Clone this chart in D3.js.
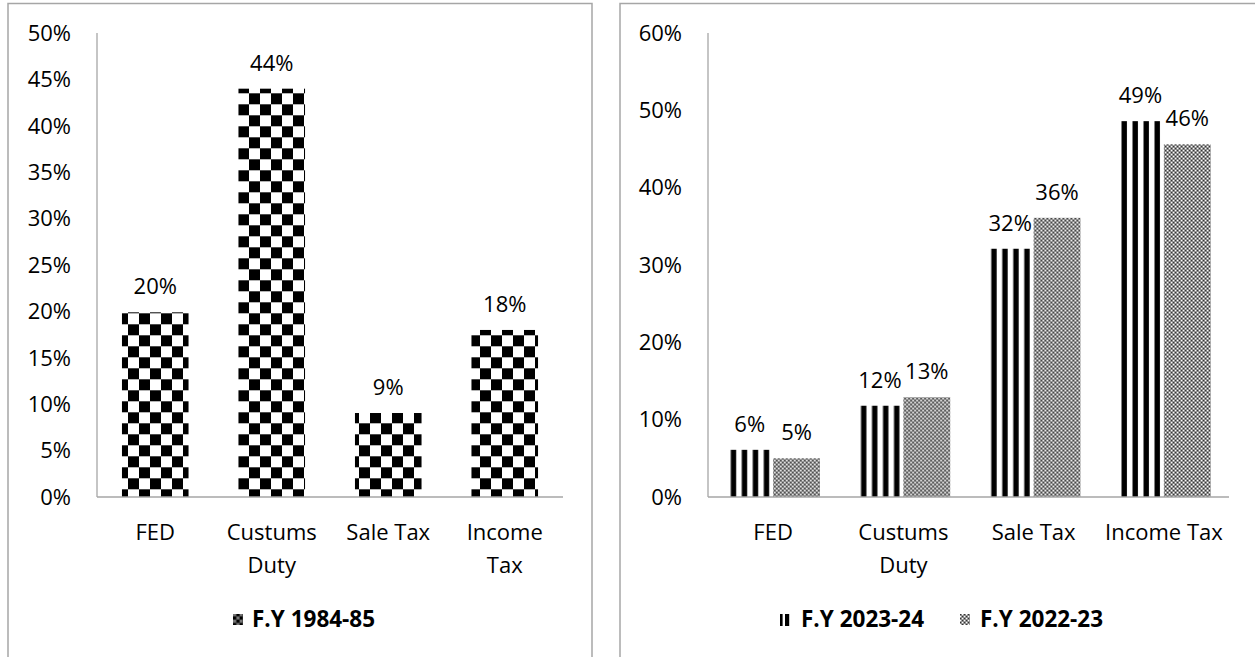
<!DOCTYPE html>
<html>
<head>
<meta charset="utf-8">
<script src="https://cdn.jsdelivr.net/npm/d3@7/dist/d3.min.js"></script>
<style>
  html, body { margin: 0; padding: 0; background: #fff; }
  svg { display: block; }
  text { font-family: "Open Sans", "Noto Sans", sans-serif; fill: #000; }
</style>
</head>
<body>
<svg id="chart" width="1255" height="657"></svg>
<script>
// Tax revenue shares by head
const categories = ["FED", "Custums Duty", "Sale Tax", "Income Tax"];
const yearOld = "F.Y 1984-85";
const valuesOld = [0.199, 0.44, 0.0905, 0.18];
const yearNew = "F.Y 2023-24";
const yearPrev = "F.Y 2022-23";
const valuesNew = [0.061, 0.118, 0.321, 0.486];
const valuesPrev = [0.05, 0.129, 0.361, 0.456];
const ticksLeft = [0, 0.05, 0.10, 0.15, 0.20, 0.25, 0.30, 0.35, 0.40, 0.45, 0.50];
const ticksRight = [0, 0.10, 0.20, 0.30, 0.40, 0.50, 0.60];

const svg = d3.select("#chart");
const pct = d3.format(".0%");
const defs = svg.append("defs");

// Checkerboard fill
const checker = defs.append("pattern")
  .attr("id", "checker").attr("patternUnits", "userSpaceOnUse")
  .attr("x", 7).attr("y", 5.3).attr("width", 22).attr("height", 22);
checker.append("rect").attr("width", 22).attr("height", 22).attr("fill", "#fff");
checker.append("rect").attr("x", 0).attr("y", 0).attr("width", 11).attr("height", 11).attr("fill", "#000");
checker.append("rect").attr("x", 11).attr("y", 11).attr("width", 11).attr("height", 11).attr("fill", "#000");

// Small checkerboard for the legend key
const checkerSmall = defs.append("pattern")
  .attr("id", "checkerSmall").attr("patternUnits", "userSpaceOnUse")
  .attr("x", 233).attr("y", 613).attr("width", 6.6).attr("height", 6.6);
checkerSmall.append("rect").attr("width", 6.6).attr("height", 6.6).attr("fill", "#777");
checkerSmall.append("rect").attr("x", 3.3).attr("y", 0).attr("width", 3.3).attr("height", 3.3).attr("fill", "#000");
checkerSmall.append("rect").attr("x", 0).attr("y", 3.3).attr("width", 3.3).attr("height", 3.3).attr("fill", "#000");

// Vertical stripes
const stripes = defs.append("pattern")
  .attr("id", "stripes").attr("patternUnits", "userSpaceOnUse")
  .attr("x", 4).attr("y", 0).attr("width", 11).attr("height", 11);
stripes.append("rect").attr("width", 11).attr("height", 11).attr("fill", "#fff");
stripes.append("rect").attr("x", 0.5).attr("width", 5.4).attr("height", 11).attr("fill", "#000");

// Fine dotted grey
const dots = defs.append("pattern")
  .attr("id", "dots").attr("patternUnits", "userSpaceOnUse")
  .attr("width", 4).attr("height", 4);
dots.append("rect").attr("width", 4).attr("height", 4).attr("fill", "#8a8a8a");
dots.append("rect").attr("x", 0).attr("y", 0).attr("width", 1.2).attr("height", 1.2).attr("fill", "#fff");
dots.append("rect").attr("x", 2).attr("y", 2).attr("width", 1.2).attr("height", 1.2).attr("fill", "#fff");
dots.append("rect").attr("x", 2).attr("y", 0).attr("width", 1).attr("height", 1).attr("fill", "#333");
dots.append("rect").attr("x", 0).attr("y", 2).attr("width", 1).attr("height", 1).attr("fill", "#333");

// Panel frames
svg.append("rect").attr("x", 8).attr("y", 3.5).attr("width", 584).attr("height", 700)
  .attr("fill", "none").attr("stroke", "#a6a6a6").attr("stroke-width", 1.5);
svg.append("rect").attr("x", 620).attr("y", 3.5).attr("width", 700).attr("height", 700)
  .attr("fill", "none").attr("stroke", "#a6a6a6").attr("stroke-width", 1.5);

const axisColor = "#a6a6a6";
const fontSize = 22;
const legendSize = 22.5;

function drawAxes(g, x0, x1, y, ticks) {
  g.append("line").attr("x1", x0).attr("x2", x0).attr("y1", y.range()[1]).attr("y2", y.range()[0])
    .attr("stroke", axisColor).attr("stroke-width", 1.3);
  g.append("line").attr("x1", x0).attr("x2", x1).attr("y1", y(0)).attr("y2", y(0))
    .attr("stroke", axisColor).attr("stroke-width", 1.3);
  g.selectAll(".ytick").data(ticks).join("text")
    .attr("class", "ytick")
    .attr("x", x0 - 26).attr("y", d => y(d)).attr("dy", "0.35em")
    .attr("text-anchor", "end").style("font-size", fontSize + "px")
    .text(pct);
}

// Category labels wrap onto a second line only when they are wider than their band
function drawCategoryLabels(g, x) {
  g.selectAll(".xlab").data(categories).join("text")
    .attr("class", "xlab")
    .attr("text-anchor", "middle").style("font-size", fontSize + "px")
    .attr("transform", d => `translate(${x(d) + x.bandwidth() / 2},540)`)
    .each(function (d) {
      const t = d3.select(this);
      t.text(d);
      if (this.getComputedTextLength() <= x.bandwidth()) return;
      t.text(null);
      const words = d.split(" ");
      t.selectAll("tspan").data(words).join("tspan")
        .attr("x", 0).attr("y", (w, i) => i * 33).text(w => w);
    });
}

// ---------- Left chart: F.Y 1984-85 ----------
const gL = svg.append("g");
const yL = d3.scaleLinear().domain([0, 0.5]).range([497, 33]);
const xL = d3.scaleBand().domain(categories).range([97, 563]).padding(0);
const barWL = xL.bandwidth() / 1.75;

gL.selectAll(".barL").data(categories).join("rect")
  .attr("class", "barL")
  .attr("x", d => xL(d) + (xL.bandwidth() - barWL) / 2)
  .attr("width", barWL)
  .attr("y", (d, i) => yL(valuesOld[i]))
  .attr("height", (d, i) => yL(0) - yL(valuesOld[i]))
  .attr("fill", "url(#checker)");

drawAxes(gL, 97, 563, yL, ticksLeft);

gL.selectAll(".valL").data(categories).join("text")
  .attr("class", "valL")
  .attr("x", d => xL(d) + xL.bandwidth() / 2)
  .attr("y", (d, i) => yL(valuesOld[i]) - 18)
  .attr("text-anchor", "middle").style("font-size", fontSize + "px")
  .text((d, i) => pct(valuesOld[i]));

drawCategoryLabels(gL, xL);

// Legend
gL.append("rect").attr("x", 233).attr("y", 614).attr("width", 10).attr("height", 11)
  .attr("fill", "url(#checkerSmall)");
gL.append("text").attr("x", 252).attr("y", 627)
  .style("font-size", legendSize + "px").style("font-weight", 700).text(yearOld);

// ---------- Right chart: F.Y 2023-24 vs F.Y 2022-23 ----------
const gR = svg.append("g");
const yR = d3.scaleLinear().domain([0, 0.6]).range([497, 33]);
const xR = d3.scaleBand().domain(categories).range([708, 1229]).padding(0);
const series = [
  { name: yearNew, values: valuesNew, fill: "url(#stripes)" },
  { name: yearPrev, values: valuesPrev, fill: "url(#dots)" }
];
const clusterW = xR.bandwidth() / 1.39;
const xSub = d3.scaleBand().domain(series.map(s => s.name)).range([0, clusterW]).padding(0);

const groups = gR.selectAll(".cat").data(categories).join("g")
  .attr("class", "cat")
  .attr("transform", d => `translate(${xR(d) + (xR.bandwidth() - clusterW) / 2},0)`);

groups.selectAll("rect").data((d, i) => series.map(s => ({ s, v: s.values[i] }))).join("rect")
  .attr("x", d => xSub(d.s.name))
  .attr("width", xSub.bandwidth())
  .attr("y", d => yR(d.v))
  .attr("height", d => yR(0) - yR(d.v))
  .attr("fill", d => d.s.fill);

drawAxes(gR, 708, 1229, yR, ticksRight);

groups.selectAll("text").data((d, i) => series.map(s => ({ s, v: s.values[i] }))).join("text")
  .attr("x", d => xSub(d.s.name) + xSub.bandwidth() / 2)
  .attr("y", d => yR(d.v) - 18)
  .attr("text-anchor", "middle").style("font-size", fontSize + "px")
  .text(d => pct(d.v));

drawCategoryLabels(gR, xR);

// Legend
const lg = gR.append("g");
lg.append("rect").attr("x", 780).attr("y", 614).attr("width", 2.6).attr("height", 12).attr("fill", "#000");
lg.append("rect").attr("x", 785).attr("y", 614).attr("width", 4.2).attr("height", 12).attr("fill", "#000");
lg.append("text").attr("x", 801).attr("y", 627)
  .style("font-size", legendSize + "px").style("font-weight", 700).text(yearNew);
lg.append("rect").attr("x", 960).attr("y", 614).attr("width", 10).attr("height", 11).attr("fill", "url(#dots)");
lg.append("text").attr("x", 980).attr("y", 627)
  .style("font-size", legendSize + "px").style("font-weight", 700).text(yearPrev);
</script>
</body>
</html>
